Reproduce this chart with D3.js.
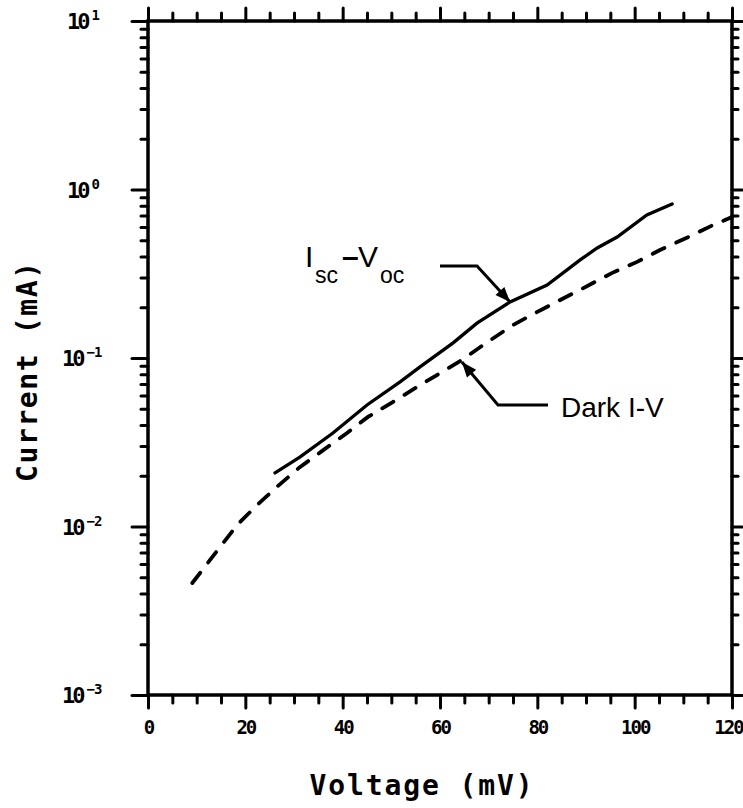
<!DOCTYPE html>
<html>
<head>
<meta charset="utf-8">
<script src="https://cdn.jsdelivr.net/npm/d3@7"></script>
<style>
  body { margin: 0; background: #fff; }
  .axlab { font-family: "DejaVu Sans Mono", monospace; font-weight: bold; fill: #000; }
  .note { font-family: "Liberation Sans", Arial, sans-serif; fill: #000; }
</style>
</head>
<body>
<svg id="chart" width="743" height="808"></svg>
<script>
// tick values
var xMajor = [0, 20, 40, 60, 80, 100, 120];
var xMinor = [5, 10, 15, 25, 30, 35, 45, 50, 55, 65, 70, 75, 85, 90, 95, 105, 110, 115];
var yExp = [1, 0, -1, -2, -3];
var yMinorMult = [2, 3, 4, 5, 6, 7, 8, 9];

// Isc-Voc curve (solid)
var iscV = [26.1, 31.2, 38.0, 45.0, 51.8, 55.9, 62.7, 67.6, 74.4, 82.0, 88.8, 92.3, 96.4, 102.5, 107.7];
var iscI = [0.0208, 0.0258, 0.0359, 0.0526, 0.0721, 0.0885, 0.123, 0.161, 0.215, 0.271, 0.382, 0.450, 0.522, 0.706, 0.820];

// Dark I-V curve (dashed)
var darkV = [9.1, 14.8, 18.3, 22.4, 26.7, 31.2, 35.8, 40.9, 45.2, 50.3, 55.3, 60.4, 64.5, 69.7, 75.0, 79.9, 84.7, 88.8, 95.3, 100.5, 105.2, 111.0, 116.1, 120];
var darkI = [0.00462, 0.00755, 0.0102, 0.0134, 0.0174, 0.0225, 0.0281, 0.0359, 0.0447, 0.0548, 0.0673, 0.0826, 0.0973, 0.124, 0.157, 0.187, 0.221, 0.254, 0.319, 0.372, 0.437, 0.522, 0.615, 0.687];

var margin = {top: 21, right: 11, bottom: 113, left: 148};
var W = 743, H = 808;

var x = d3.scaleLinear().domain([0, 120]).range([margin.left, W - margin.right]);
var y = d3.scaleLog().domain([1e-3, 10]).range([H - margin.bottom, margin.top]);

var svg = d3.select("#chart");

var yMinor = [];
yExp.slice(1).forEach(function(e) {
  yMinorMult.forEach(function(m) { yMinor.push(m * Math.pow(10, e)); });
});
var yMajor = yExp.map(function(e) { return Math.pow(10, e); });

function styleAxis(g) {
  g.select(".domain").remove();
  g.selectAll(".tick line").attr("stroke", "#000").attr("stroke-width", 3).attr("stroke-linecap", "round");
}

var x0 = x.range()[0], x1 = x.range()[1], y0 = y.range()[0], y1 = y.range()[1];

// ticks, all four sides
svg.append("g").attr("transform", "translate(0," + y0 + ")")
   .call(d3.axisBottom(x).tickValues(xMinor).tickSize(8).tickFormat("")).call(styleAxis);
svg.append("g").attr("class", "xmaj").attr("transform", "translate(0," + y0 + ")")
   .call(d3.axisBottom(x).tickValues(xMajor).tickSize(13).tickPadding(13).tickFormat(d3.format("d"))).call(styleAxis);
svg.append("g").attr("transform", "translate(0," + y1 + ")")
   .call(d3.axisTop(x).tickValues(xMinor).tickSize(8).tickFormat("")).call(styleAxis);
svg.append("g").attr("transform", "translate(0," + y1 + ")")
   .call(d3.axisTop(x).tickValues(xMajor).tickSize(13).tickFormat("")).call(styleAxis);

svg.append("g").attr("transform", "translate(" + x0 + ",0)")
   .call(d3.axisLeft(y).tickValues(yMinor).tickSize(7).tickFormat("")).call(styleAxis);
svg.append("g").attr("transform", "translate(" + x0 + ",0)")
   .call(d3.axisLeft(y).tickValues(yMajor).tickSize(16).tickFormat("")).call(styleAxis);
svg.append("g").attr("transform", "translate(" + x1 + ",0)")
   .call(d3.axisRight(y).tickValues(yMinor).tickSize(6).tickFormat("")).call(styleAxis);
svg.append("g").attr("transform", "translate(" + x1 + ",0)")
   .call(d3.axisRight(y).tickValues(yMajor).tickSize(10).tickFormat("")).call(styleAxis);

svg.selectAll(".xmaj .tick text")
   .attr("class", "axlab").attr("font-size", 19).attr("font-family", null)
   .attr("letter-spacing", -2)
   .attr("dx", function(d) { return d === 120 ? -4 : 0; });

// frame
svg.append("rect")
   .attr("x", x0).attr("y", y1).attr("width", x1 - x0).attr("height", y0 - y1)
   .attr("fill", "none").attr("stroke", "#000").attr("stroke-width", 3.5);

// y tick labels 10^n
yExp.forEach(function(e) {
  var t = svg.append("text").attr("class", "axlab")
     .attr("x", e < 0 ? 62 : 67).attr("y", y(Math.pow(10, e)) + 8).attr("font-size", 22)
     .attr("letter-spacing", -3);
  t.append("tspan").text("10");
  t.append("tspan").attr("font-size", 14).attr("dy", -9).attr("dx", 4).attr("letter-spacing", -1)
   .text(e < 0 ? "\u2212" + (-e) : e);
});

// curves
var line = d3.line().x(function(d) { return x(d[0]); }).y(function(d) { return y(d[1]); });

svg.append("path")
   .datum(darkV.map(function(v, i) { return [v, darkI[i]]; }))
   .attr("d", line).attr("fill", "none").attr("stroke", "#000")
   .attr("stroke-width", 3.8).attr("stroke-dasharray", "13,13").attr("stroke-linecap", "round");

svg.append("path")
   .datum(iscV.map(function(v, i) { return [v, iscI[i]]; }))
   .attr("d", line).attr("fill", "none").attr("stroke", "#000")
   .attr("stroke-width", 3.3).attr("stroke-linecap", "round");

// annotation arrows
function arrow(tip, elbow, end) {
  var tx = x(tip[0]), ty = y(tip[1]);
  svg.append("path")
     .attr("d", "M" + end[0] + "," + end[1] + "L" + elbow[0] + "," + elbow[1] + "L" + tx + "," + ty)
     .attr("fill", "none").attr("stroke", "#000").attr("stroke-width", 3);
  var ang = Math.atan2(ty - elbow[1], tx - elbow[0]);
  var L = 15, w = 6;
  var bx = tx - L * Math.cos(ang), by = ty - L * Math.sin(ang);
  var px = -Math.sin(ang) * w, py = Math.cos(ang) * w;
  svg.append("path")
     .attr("d", "M" + tx + "," + ty + "L" + (bx + px) + "," + (by + py) + "L" + (bx - px) + "," + (by - py) + "Z")
     .attr("fill", "#000");
}
arrow([74.4, 0.215], [477, 266], [440, 266]);
arrow([64.5, 0.0946], [498, 405], [548, 405]);

// Isc - Voc label
var lab = svg.append("text").attr("class", "note").attr("y", 267).attr("font-size", 30);
lab.append("tspan").attr("x", 305).text("I");
lab.append("tspan").attr("x", 315).attr("dy", 16).attr("font-size", 23).text("sc");
lab.append("tspan").attr("x", 342).attr("dy", -16).attr("font-weight", "bold").text("\u2013");
lab.append("tspan").attr("x", 358).text("V");
lab.append("tspan").attr("x", 380).attr("dy", 16).attr("font-size", 23).text("oc");

svg.append("text").attr("class", "note").attr("x", 561).attr("y", 417)
   .attr("font-size", 28).text("Dark I-V");

// axis titles
svg.append("text").attr("class", "axlab")
   .attr("x", 421).attr("y", 795).attr("text-anchor", "middle").attr("font-size", 28)
   .attr("textLength", 223).attr("lengthAdjust", "spacing").text("Voltage (mV)");

svg.append("text").attr("class", "axlab")
   .attr("transform", "translate(37,372) rotate(-90)").attr("text-anchor", "middle").attr("font-size", 28)
   .attr("textLength", 220).attr("lengthAdjust", "spacing").text("Current (mA)");
</script>
</body>
</html>
